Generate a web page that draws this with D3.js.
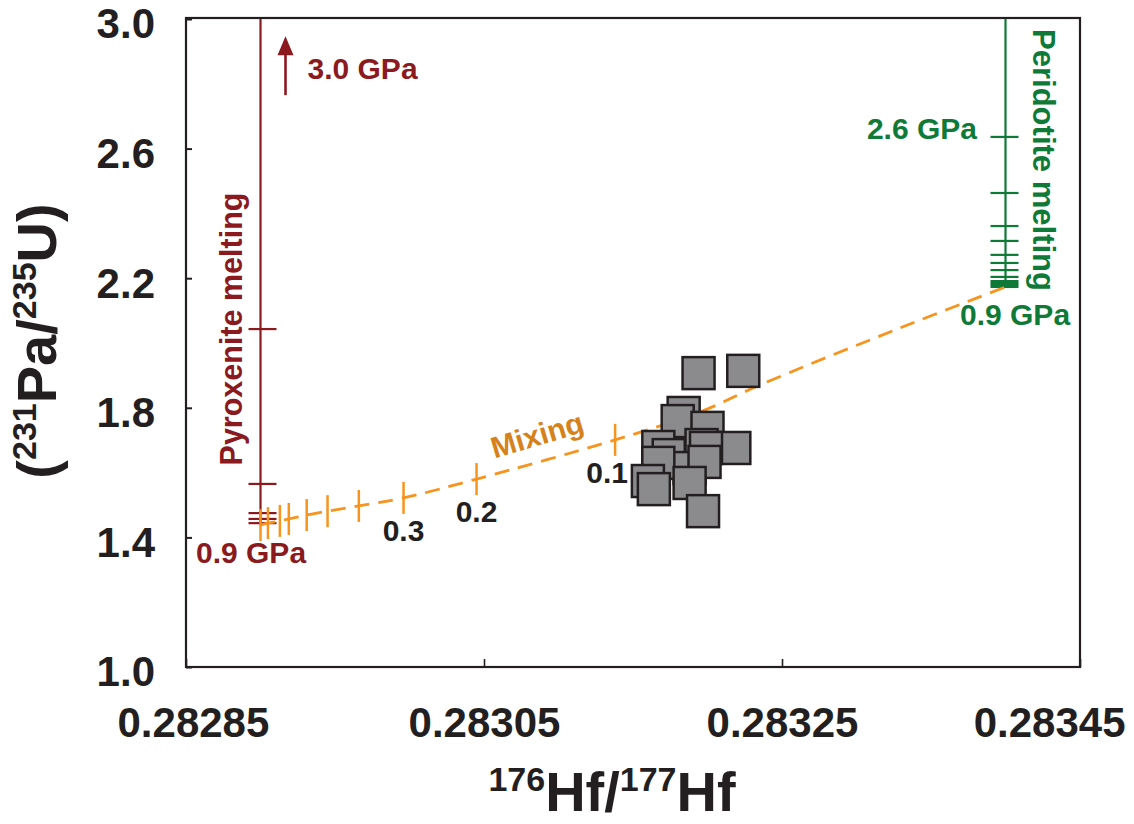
<!DOCTYPE html>
<html>
<head>
<meta charset="utf-8">
<script src="https://cdn.jsdelivr.net/npm/d3@7"></script>
<style>
  html, body { margin: 0; padding: 0; background: #fff; }
  svg { display: block; font-family: "Liberation Sans", Arial, Helvetica, sans-serif; font-weight: bold; }
</style>
</head>
<body>
<svg id="chart" width="1134" height="824"></svg>
<script>
// Axis ticks
const hfTicks = [0.28285, 0.28305, 0.28325, 0.28345];
const paTicks = [1.0, 1.4, 1.8, 2.2, 2.6, 3.0];

// Pyroxenite melting column (pressure increments marked by ticks)
const pyroxHf = 0.2829;
const pyroxPaTop = 3.0;
const pyroxPaBase = 1.438;
const pyroxTickPa = [2.043, 1.565, 1.475, 1.457, 1.444];

// Peridotite melting column
const peridHf = 0.2834;
const peridPaTop = 3.0;
const peridPaBase = 2.173;
const peridTickPa = [2.636, 2.463, 2.361, 2.315, 2.272, 2.247, 2.225, 2.204, 2.191, 2.185, 2.179, 2.173];

// Mixing curve: tick marks at mixing proportions (pyroxenite end first)
const mixFraction = [1.0, 0.9, 0.8, 0.7, 0.6, 0.5, 0.4, 0.3, 0.2, 0.1];
const mixTickHf = [0.2829, 0.282905, 0.282913, 0.282919, 0.282931, 0.282945, 0.282966, 0.282996, 0.283045, 0.283138];
const mixTickPa = [1.438, 1.444, 1.451, 1.457, 1.469, 1.481, 1.497, 1.522, 1.580, 1.701];
// remaining course of the curve towards the peridotite end-member
const mixTailHf = [0.283195, 0.283235, 0.283329, 0.2834];
const mixTailPa = [1.787, 1.870, 2.046, 2.173];
const mixLabelled = [0.3, 0.2, 0.1];

// Samples
const sampleHf = [0.283194, 0.283224, 0.283184, 0.283180, 0.283200, 0.283167, 0.283174, 0.283196, 0.283218, 0.283199, 0.283188, 0.283198, 0.283167, 0.283160, 0.283188, 0.283164, 0.283197];
const samplePa = [1.907, 1.914, 1.784, 1.759, 1.738, 1.679, 1.654, 1.685, 1.676, 1.676, 1.614, 1.633, 1.630, 1.574, 1.568, 1.549, 1.481];

const INK = "#231f20", RED = "#8b1a1f", GREEN = "#0f7a38", ORANGE = "#f7941d", ORANGE_TXT = "#d6821c";

const svg = d3.select("#chart");
const x = d3.scaleLinear().domain([0.28285, 0.28345]).range([186, 1080]);
const y = d3.scaleLinear().domain([1.0, 3.0]).range([667, 19]);

// Frame
svg.append("rect")
  .attr("x", x(0.28285)).attr("y", y(3.0) - 1)
  .attr("width", x(0.28345) - x(0.28285)).attr("height", y(1.0) - y(3.0) + 1)
  .attr("fill", "none").attr("stroke", INK).attr("stroke-width", 2.2);

// Axes
const yAxis = d3.axisLeft(y).tickValues(paTicks).tickFormat(d3.format(".1f"))
  .tickSizeInner(-6).tickSizeOuter(0).tickPadding(31);
const gy = svg.append("g").attr("transform", `translate(${x(0.28285)},0)`).call(yAxis);
gy.select(".domain").remove();
gy.selectAll("line").attr("stroke", INK).attr("stroke-width", 2);
gy.selectAll("text").attr("fill", INK).attr("font-size", 42).attr("font-family", null)
  .attr("dy", "0.45em");

const xAxis = d3.axisBottom(x).tickValues(hfTicks).tickFormat(d3.format(".5f"))
  .tickSizeInner(-8).tickSizeOuter(0).tickPadding(40);
const gx = svg.append("g").attr("transform", `translate(0,${y(1.0)})`).call(xAxis);
gx.select(".domain").remove();
gx.selectAll("line").attr("stroke", INK).attr("stroke-width", 1.6);
gx.selectAll("text").attr("fill", INK).attr("font-size", 42).attr("font-family", null)
  .each(function(d) {
    // keep edge labels inside the page
    const w = this.getComputedTextLength();
    const cx = x(d);
    const lo = 117 + w / 2, hi = 1125 - w / 2;
    const nx = Math.max(lo, Math.min(hi, cx));
    d3.select(this).attr("x", nx - cx);
  });

// Axis titles
const xt = svg.append("text").attr("x", 612).attr("y", 811).attr("text-anchor", "middle")
  .attr("fill", INK).attr("font-size", 56);
xt.append("tspan").attr("font-size", 34).attr("dy", -20).text("176");
xt.append("tspan").attr("dy", 20).text("Hf/");
xt.append("tspan").attr("font-size", 34).attr("dy", -20).text("177");
xt.append("tspan").attr("dy", 20).text("Hf");

const yt = svg.append("text").attr("transform", "translate(56,341) rotate(-90)")
  .attr("text-anchor", "middle").attr("fill", INK).attr("font-size", 56);
yt.append("tspan").text("(");
yt.append("tspan").attr("font-size", 34).attr("dy", -20).text("231");
yt.append("tspan").attr("dy", 20).text("Pa/");
yt.append("tspan").attr("font-size", 34).attr("dy", -20).text("235");
yt.append("tspan").attr("dy", 20).text("U)");

// Pyroxenite melting column
svg.append("line")
  .attr("x1", x(pyroxHf)).attr("x2", x(pyroxHf))
  .attr("y1", y(pyroxPaTop)).attr("y2", y(pyroxPaBase))
  .attr("stroke", RED).attr("stroke-width", 2.2);
svg.selectAll("line.ptick").data(pyroxTickPa).join("line").attr("class", "ptick")
  .attr("x1", x(pyroxHf) - 12).attr("x2", x(pyroxHf) + 16)
  .attr("y1", d => y(d)).attr("y2", d => y(d))
  .attr("stroke", RED).attr("stroke-width", 2.2);

// Arrow towards higher pressure
const ax = x(pyroxHf) + 25;
svg.append("line").attr("x1", ax).attr("x2", ax)
  .attr("y1", y(2.765)).attr("y2", y(2.9))
  .attr("stroke", RED).attr("stroke-width", 2.6);
svg.append("path")
  .attr("d", `M${ax},${y(2.947)} L${ax - 8},${y(2.888)} L${ax + 8},${y(2.888)} Z`)
  .attr("fill", RED);
svg.append("text").attr("x", ax + 22).attr("y", 79).attr("fill", RED).attr("font-size", 30).text("3.0 GPa");
svg.append("text").attr("x", 196).attr("y", 563).attr("fill", RED).attr("font-size", 30).text("0.9 GPa");
svg.append("text").attr("transform", `translate(${x(pyroxHf) - 19},329) rotate(-90)`)
  .attr("text-anchor", "middle").attr("fill", RED).attr("font-size", 30.5).text("Pyroxenite melting");

// Peridotite melting column
svg.append("line")
  .attr("x1", x(peridHf)).attr("x2", x(peridHf))
  .attr("y1", y(peridPaTop)).attr("y2", y(peridPaBase))
  .attr("stroke", GREEN).attr("stroke-width", 2.2);
svg.selectAll("line.gtick").data(peridTickPa).join("line").attr("class", "gtick")
  .attr("x1", x(peridHf) - 15).attr("x2", x(peridHf) + 13)
  .attr("y1", d => y(d)).attr("y2", d => y(d))
  .attr("stroke", GREEN).attr("stroke-width", 2.2);
svg.append("text").attr("x", 977).attr("y", 139).attr("text-anchor", "end")
  .attr("fill", GREEN).attr("font-size", 30).text("2.6 GPa");
svg.append("text").attr("x", 960).attr("y", 325)
  .attr("fill", GREEN).attr("font-size", 30).text("0.9 GPa");
svg.append("text").attr("transform", `translate(${x(peridHf) + 27},160) rotate(90)`)
  .attr("text-anchor", "middle").attr("fill", GREEN).attr("font-size", 31).text("Peridotite melting");

// Mixing curve
const mixPts = mixTickHf.map((h, i) => [h, mixTickPa[i]])
  .concat(mixTailHf.map((h, i) => [h, mixTailPa[i]]));
const line = d3.line().x(d => x(d[0])).y(d => y(d[1])).curve(d3.curveCatmullRom.alpha(0.5));
svg.append("path").attr("d", line(mixPts))
  .attr("fill", "none").attr("stroke", ORANGE).attr("stroke-width", 2.8)
  .attr("stroke-dasharray", "15,9");
svg.selectAll("line.mtick").data(mixFraction).join("line").attr("class", "mtick")
  .attr("x1", (d, i) => x(mixTickHf[i])).attr("x2", (d, i) => x(mixTickHf[i]))
  .attr("y1", (d, i) => y(mixTickPa[i]) - 16).attr("y2", (d, i) => y(mixTickPa[i]) + 16)
  .attr("stroke", ORANGE).attr("stroke-width", 2.5);
svg.selectAll("text.mlab").data(mixLabelled).join("text").attr("class", "mlab")
  .attr("x", d => { const i = mixFraction.indexOf(d); return x(mixTickHf[i]) + (d === 0.1 ? -8 : 0); })
  .attr("y", d => { const i = mixFraction.indexOf(d); return y(mixTickPa[i]) + 43; })
  .attr("text-anchor", "middle").attr("fill", INK).attr("font-size", 30)
  .text(d => d3.format(".1f")(d));
svg.append("text").attr("transform", "translate(540,445) rotate(-16.5)")
  .attr("text-anchor", "middle").attr("fill", ORANGE_TXT).attr("font-size", 30).text("Mixing");

// Samples
const S = 32;
svg.selectAll("rect.sample").data(sampleHf).join("rect").attr("class", "sample")
  .attr("x", d => x(d) - S / 2)
  .attr("y", (d, i) => y(samplePa[i]) - S / 2)
  .attr("width", S).attr("height", S)
  .attr("fill", "#8b8b8d").attr("stroke", INK).attr("stroke-width", 2.5);
</script>
</body>
</html>
